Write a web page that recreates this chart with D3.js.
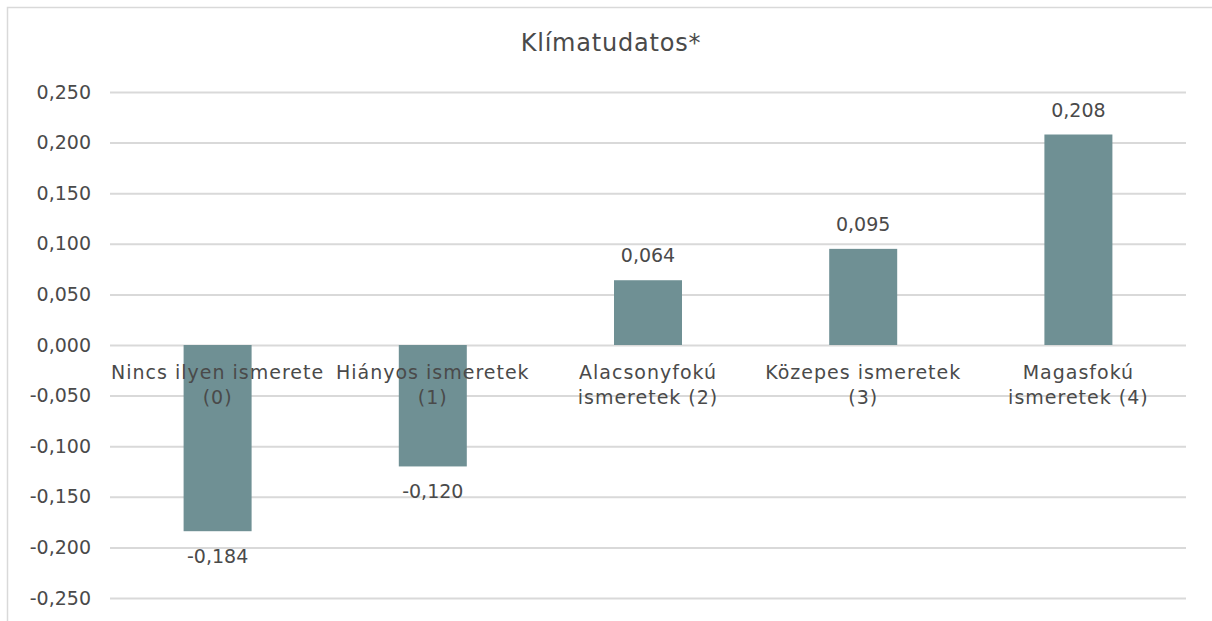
<!DOCTYPE html>
<html>
<head>
<meta charset="utf-8">
<script src="https://cdn.jsdelivr.net/npm/d3@7"></script>
<style>
  body { margin: 0; background: #fff; overflow: hidden; }
  svg text { font-family: "DejaVu Sans", sans-serif; fill: #4a4a4a; }
</style>
</head>
<body>
<svg id="chart" width="1212" height="621"></svg>
<script>
// Data
const categories = [
  ["Nincs ilyen ismerete", "(0)"],
  ["Hiányos ismeretek", "(1)"],
  ["Alacsonyfokú", "ismeretek (2)"],
  ["Közepes ismeretek", "(3)"],
  ["Magasfokú", "ismeretek (4)"]
];
const values = [-0.184, -0.120, 0.064, 0.095, 0.208];
const yTicks = [0.25, 0.2, 0.15, 0.1, 0.05, 0, -0.05, -0.1, -0.15, -0.2, -0.25];
const title = "Klímatudatos*";

const barColor = "#6f9094";
const gridColor = "#d9d9d9";

let svg = d3.select("svg#chart");
let margin = { "top": 92, "left": 110, "right": 26 };
let width = 1212;
let chartWidth = width - margin.left - margin.right;

// outer frame
svg.append("rect")
  .attr("x", 7.5).attr("y", 7.5)
  .attr("width", 1230).attr("height", 640)
  .attr("fill", "none")
  .attr("stroke", gridColor)
  .attr("stroke-width", 1.5);

const fmt = v => d3.format(".3f")(v).replace(".", ",").replace("−", "-");

const xScale = d3.scaleBand()
  .domain(d3.range(categories.length))
  .range([margin.left, margin.left + chartWidth]);

const yScale = d3.scaleLinear()
  .domain([0.25, -0.25])
  .range([92, 598]);

// gridlines
let grid = d3.axisLeft(yScale).tickValues(yTicks).tickSize(-chartWidth).tickFormat("");
svg.append("g")
  .attr("transform", "translate(" + margin.left + ",0)")
  .call(grid)
  .call(g => g.select(".domain").remove())
  .call(g => g.selectAll("line").attr("stroke", gridColor).attr("stroke-width", 2));

// y labels
let leftAxis = d3.axisLeft(yScale).tickValues(yTicks).tickSize(0).tickPadding(19).tickFormat(fmt);
svg.append("g")
  .attr("transform", "translate(" + margin.left + ",0)")
  .call(leftAxis)
  .call(g => g.select(".domain").remove())
  .call(g => g.selectAll("text").attr("font-size", "19px").attr("fill", "#4a4a4a")
    .attr("font-family", "DejaVu Sans, sans-serif"));

// bars
const bw = 68;
svg.selectAll("rect.bar")
  .data(values)
  .enter()
  .append("rect")
  .attr("class", "bar")
  .attr("x", (d, i) => xScale(i) + xScale.bandwidth() / 2 - bw / 2)
  .attr("y", d => yScale(Math.max(0, d)))
  .attr("width", bw)
  .attr("height", d => Math.abs(yScale(d) - yScale(0)))
  .attr("fill", barColor);

// value labels
svg.selectAll("text.val")
  .data(values)
  .enter()
  .append("text")
  .attr("class", "val")
  .attr("text-anchor", "middle")
  .attr("font-size", "19px")
  .attr("x", (d, i) => xScale(i) + xScale.bandwidth() / 2)
  .attr("y", d => d >= 0 ? yScale(d) - 18 : yScale(d) + 32)
  .text(fmt);

// category labels
categories.forEach((c, i) => {
  let t = svg.append("text")
    .attr("text-anchor", "middle")
    .attr("font-size", "19px")
    .attr("letter-spacing", "1px")
    .attr("x", xScale(i) + xScale.bandwidth() / 2)
    .attr("y", yScale(0) + 34);
  c.forEach((line, j) => {
    t.append("tspan")
      .attr("x", xScale(i) + xScale.bandwidth() / 2)
      .attr("dy", j === 0 ? 0 : 25)
      .text(line);
  });
});

// title
svg.append("text")
  .attr("text-anchor", "middle")
  .attr("x", 611)
  .attr("y", 51)
  .attr("font-size", "24px")
  .attr("letter-spacing", "0.8px")
  .text(title);
</script>
</body>
</html>
